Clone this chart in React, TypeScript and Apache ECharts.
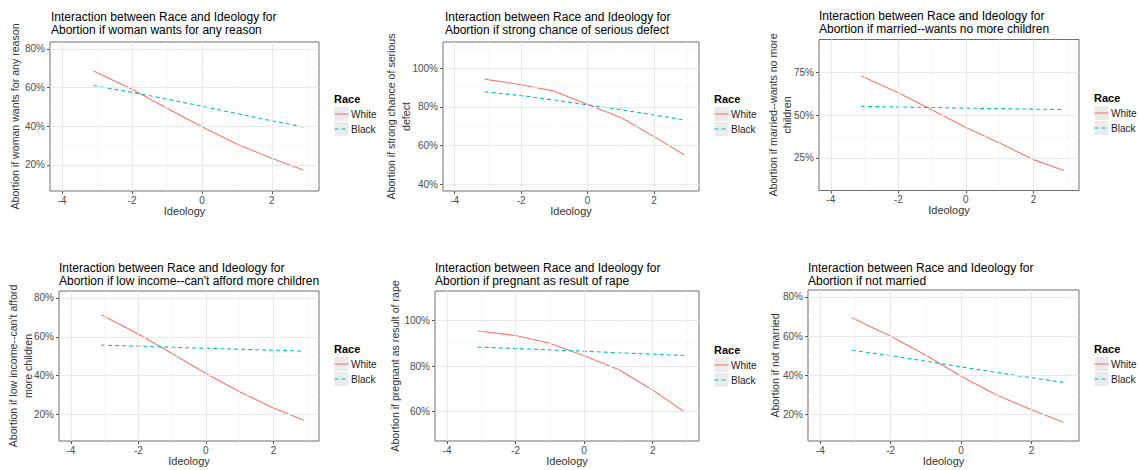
import React, { useEffect, useRef } from "react";
import * as echarts from "echarts";

// ---------- data ----------
const ideology = [-3.1, -2, -1, 0, 1, 2, 2.9];
const raceNames = ["White", "Black"];
const xTicks = [-4, -2, 0, 2];
const xMinor = [-3, -1, 1, 3];

const titleAnyReason = "Interaction between Race and Ideology for\nAbortion if woman wants for any reason";
const titleDefect = "Interaction between Race and Ideology for\nAbortion if strong chance of serious defect";
const titleMarried = "Interaction between Race and Ideology for\nAbortion if married--wants no more children";
const titleLowIncome = "Interaction between Race and Ideology for\nAbortion if low income--can't afford more children";
const titleRape = "Interaction between Race and Ideology for\nAbortion if pregnant as result of rape";
const titleNotMarried = "Interaction between Race and Ideology for\nAbortion if not married";

const yTitleAnyReason = ["Abortion if woman wants for any reason"];
const yTitleDefect = ["Abortion if strong chance of serious", "defect"];
const yTitleMarried = ["Abortion if married--wants no more", "children"];
const yTitleLowIncome = ["Abortion if low income--can't afford", "more children"];
const yTitleRape = ["Abortion if pregnant as result of rape"];
const yTitleNotMarried = ["Abortion if not married"];

const whiteAnyReason = [68.5, 59.1, 49.3, 39.7, 30.8, 23.4, 17.4];
const blackAnyReason = [61.0, 57.5, 54.0, 50.3, 46.5, 42.8, 39.6];
const whiteDefect = [94.3, 91.4, 88.1, 81.2, 74.5, 64.6, 55.2];
const blackDefect = [87.8, 85.8, 83.5, 81.0, 78.5, 75.8, 73.2];
const whiteMarried = [72.7, 62.9, 52.9, 42.7, 33.7, 24.0, 17.7];
const blackMarried = [55.0, 54.7, 54.4, 54.0, 53.7, 53.4, 53.2];
const whiteLowIncome = [71.3, 61.4, 51.4, 41.2, 31.8, 23.4, 17.2];
const blackLowIncome = [55.7, 55.2, 54.6, 54.1, 53.6, 53.1, 52.6];
const whiteRape = [95.4, 93.4, 90.0, 84.5, 78.5, 69.4, 60.1];
const blackRape = [88.3, 87.7, 87.1, 86.5, 85.8, 85.2, 84.6];
const whiteNotMarried = [69.3, 59.9, 50.2, 39.5, 30.1, 22.4, 16.1];
const blackNotMarried = [52.8, 50.0, 47.2, 44.3, 41.5, 38.8, 36.4];

const yTicksA = [20, 40, 60, 80];
const yMinorA = [10, 30, 50, 70];
const yTicksB = [40, 60, 80, 100];
const yMinorB = [50, 70, 90, 110];
const yTicksC = [25, 50, 75];
const yMinorC = [12.5, 37.5, 62.5, 87.5];
const yTicksD = [60, 80, 100];
const yMinorD = [50, 70, 90, 110];

// ---------- layout / style ----------
const FONT = "'Liberation Sans', Arial, sans-serif";
const WHITE_COLOR = "#F8766D";
const BLACK_COLOR = "#00BFC4";
const raceColors = [WHITE_COLOR, BLACK_COLOR];
const raceDash: any[] = [null, [4, 3]];

const panels = [
  { title: titleAnyReason, yTitle: yTitleAnyReason, white: whiteAnyReason, black: blackAnyReason, yTicks: yTicksA, yMinor: yMinorA, yMin: 6.5, yMax: 83.5,
    grid: { left: 50, top: 42, width: 269, height: 149 }, titlePos: { left: 51, top: 10 }, yTitleX: [15], legX: 334, raceY: 99 },
  { title: titleDefect, yTitle: yTitleDefect, white: whiteDefect, black: blackDefect, yTicks: yTicksB, yMinor: yMinorB, yMin: 36.5, yMax: 113.5,
    grid: { left: 443, top: 42, width: 256, height: 149 }, titlePos: { left: 445, top: 10 }, yTitleX: [391, 406], legX: 714, raceY: 99 },
  { title: titleMarried, yTitle: yTitleMarried, white: whiteMarried, black: blackMarried, yTicks: yTicksC, yMinor: yMinorC, yMin: 6, yMax: 94,
    grid: { left: 819, top: 39.5, width: 260, height: 151 }, titlePos: { left: 819, top: 9 }, yTitleX: [773, 787], legX: 1094, raceY: 98 },
  { title: titleLowIncome, yTitle: yTitleLowIncome, white: whiteLowIncome, black: blackLowIncome, yTicks: yTicksA, yMinor: yMinorA, yMin: 6.5, yMax: 83.5,
    grid: { left: 59, top: 291, width: 260, height: 150 }, titlePos: { left: 59, top: 261 }, yTitleX: [13, 28], legX: 334, raceY: 349 },
  { title: titleRape, yTitle: yTitleRape, white: whiteRape, black: blackRape, yTicks: yTicksD, yMinor: yMinorD, yMin: 47, yMax: 113,
    grid: { left: 435, top: 291, width: 264, height: 150 }, titlePos: { left: 435, top: 261 }, yTitleX: [395], legX: 714, raceY: 350 },
  { title: titleNotMarried, yTitle: yTitleNotMarried, white: whiteNotMarried, black: blackNotMarried, yTicks: yTicksA, yMinor: yMinorA, yMin: 6.5, yMax: 83.5,
    grid: { left: 808, top: 290, width: 271, height: 151 }, titlePos: { left: 808, top: 261 }, yTitleX: [775], legX: 1094, raceY: 349 },
];

function buildOption() {
  const title: any[] = [];
  const grid: any[] = [];
  const xAxis: any[] = [];
  const yAxis: any[] = [];
  const series: any[] = [];
  const graphic: any[] = [];

  panels.forEach((p, i) => {
    title.push({
      text: p.title,
      left: p.titlePos.left,
      top: p.titlePos.top,
      padding: 0,
      textStyle: { fontSize: 12, fontWeight: "normal", color: "#000", lineHeight: 13.5, fontFamily: FONT },
    });
    grid.push({
      ...p.grid,
      show: true,
      borderColor: "#6e6e6e",
      borderWidth: 1,
      backgroundColor: "#fff",
      containLabel: false,
      outerBoundsMode: "none",
    });
    xAxis.push({
      type: "value",
      gridIndex: i,
      min: -4.35,
      max: 3.35,
      splitLine: { show: false },
      axisLine: { show: false, onZero: false },
      axisTick: { show: true, length: 3, lineStyle: { color: "#555" }, customValues: xTicks },
      axisLabel: { customValues: xTicks, fontSize: 10, color: "#4d4d4d", margin: 4, fontFamily: FONT, formatter: (v: number) => String(v) },
      name: "Ideology",
      nameLocation: "middle",
      nameGap: 14,
      nameMoveOverlap: false,
      nameTextStyle: { fontSize: 11, color: "#333", fontFamily: FONT },
    });
    yAxis.push({
      type: "value",
      gridIndex: i,
      min: p.yMin,
      max: p.yMax,
      splitLine: { show: false },
      axisLine: { show: false, onZero: false },
      axisTick: { show: true, length: 3, lineStyle: { color: "#555" }, customValues: p.yTicks },
      axisLabel: { customValues: p.yTicks, fontSize: 10, color: "#4d4d4d", margin: 5, fontFamily: FONT, formatter: (v: number) => v + "%" },
    });

    const gridLines: any[] = [];
    xMinor.forEach((v) => gridLines.push({ xAxis: v, lineStyle: { color: "#f3f3f3", width: 0.6, type: "solid" } }));
    p.yMinor.forEach((v) => gridLines.push({ yAxis: v, lineStyle: { color: "#f3f3f3", width: 0.6, type: "solid" } }));
    xTicks.forEach((v) => gridLines.push({ xAxis: v, lineStyle: { color: "#e8e8e8", width: 1, type: "solid" } }));
    p.yTicks.forEach((v) => gridLines.push({ yAxis: v, lineStyle: { color: "#e8e8e8", width: 1, type: "solid" } }));

    series.push({
      name: "gridlines" + i,
      type: "line",
      xAxisIndex: i,
      yAxisIndex: i,
      data: [],
      silent: true,
      z: 1,
      markLine: { silent: true, symbol: ["none", "none"], label: { show: false }, animation: false, data: gridLines },
    });
    series.push({
      name: raceNames[0],
      type: "line",
      xAxisIndex: i,
      yAxisIndex: i,
      symbol: "none",
      silent: true,
      z: 3,
      data: ideology.map((x, k) => [x, p.white[k]]),
      lineStyle: { color: WHITE_COLOR, width: 1.1 },
      itemStyle: { color: WHITE_COLOR },
    });
    series.push({
      name: raceNames[1],
      type: "line",
      xAxisIndex: i,
      yAxisIndex: i,
      symbol: "none",
      silent: true,
      z: 3,
      data: ideology.map((x, k) => [x, p.black[k]]),
      lineStyle: { color: BLACK_COLOR, width: 1.1, type: [4, 3] },
      itemStyle: { color: BLACK_COLOR },
    });

    // legend (title, key boxes, key lines, labels)
    graphic.push({
      type: "text",
      x: p.legX,
      y: p.raceY,
      style: { text: "Race", font: `bold 11px ${FONT}`, fill: "#000", align: "left", verticalAlign: "middle", textAlign: "left", textVerticalAlign: "middle" },
    });
    raceNames.forEach((name, k) => {
      const top = p.raceY + 7.5 + k * 15;
      graphic.push({
        type: "rect",
        z: 0,
        shape: { x: p.legX, y: top, width: 15, height: 15 },
        style: { fill: "#ebebeb", stroke: "#fff", lineWidth: 1 },
      });
      graphic.push({
        type: "line",
        z: 1,
        shape: { x1: p.legX + 0.5, y1: top + 7.5, x2: p.legX + 14.5, y2: top + 7.5 },
        style: { stroke: raceColors[k], lineWidth: 1.1, lineDash: raceDash[k] || undefined },
      });
      graphic.push({
        type: "text",
        z: 1,
        x: p.legX + 17,
        y: top + 7.5,
        style: { text: name, font: `10px ${FONT}`, fill: "#1a1a1a", align: "left", verticalAlign: "middle", textAlign: "left", textVerticalAlign: "middle" },
      });
    });
    // y axis titles
    const cy = p.grid.top + p.grid.height / 2;
    p.yTitle.forEach((line, k) => {
      graphic.push({
        type: "text",
        x: p.yTitleX[k],
        y: cy,
        rotation: Math.PI / 2,
        style: { text: line, font: `10.6px ${FONT}`, fill: "#333", align: "center", verticalAlign: "middle", textAlign: "center", textVerticalAlign: "middle" },
      });
    });
  });

  return {
    animation: false,
    backgroundColor: "#fff",
    textStyle: { fontFamily: FONT },
    title,
    grid,
    xAxis,
    yAxis,
    series,
    graphic: { elements: graphic },
  };
}

export default function App() {
  const ref = useRef<HTMLDivElement>(null);
  useEffect(() => {
    if (!ref.current) return;
    const chart = echarts.init(ref.current, undefined, { renderer: "svg" });
    chart.setOption(buildOption() as any);
    return () => chart.dispose();
  }, []);
  return <div ref={ref} style={{ position: "absolute", left: 0, top: 0, width: 1138, height: 470 }} />;
}
